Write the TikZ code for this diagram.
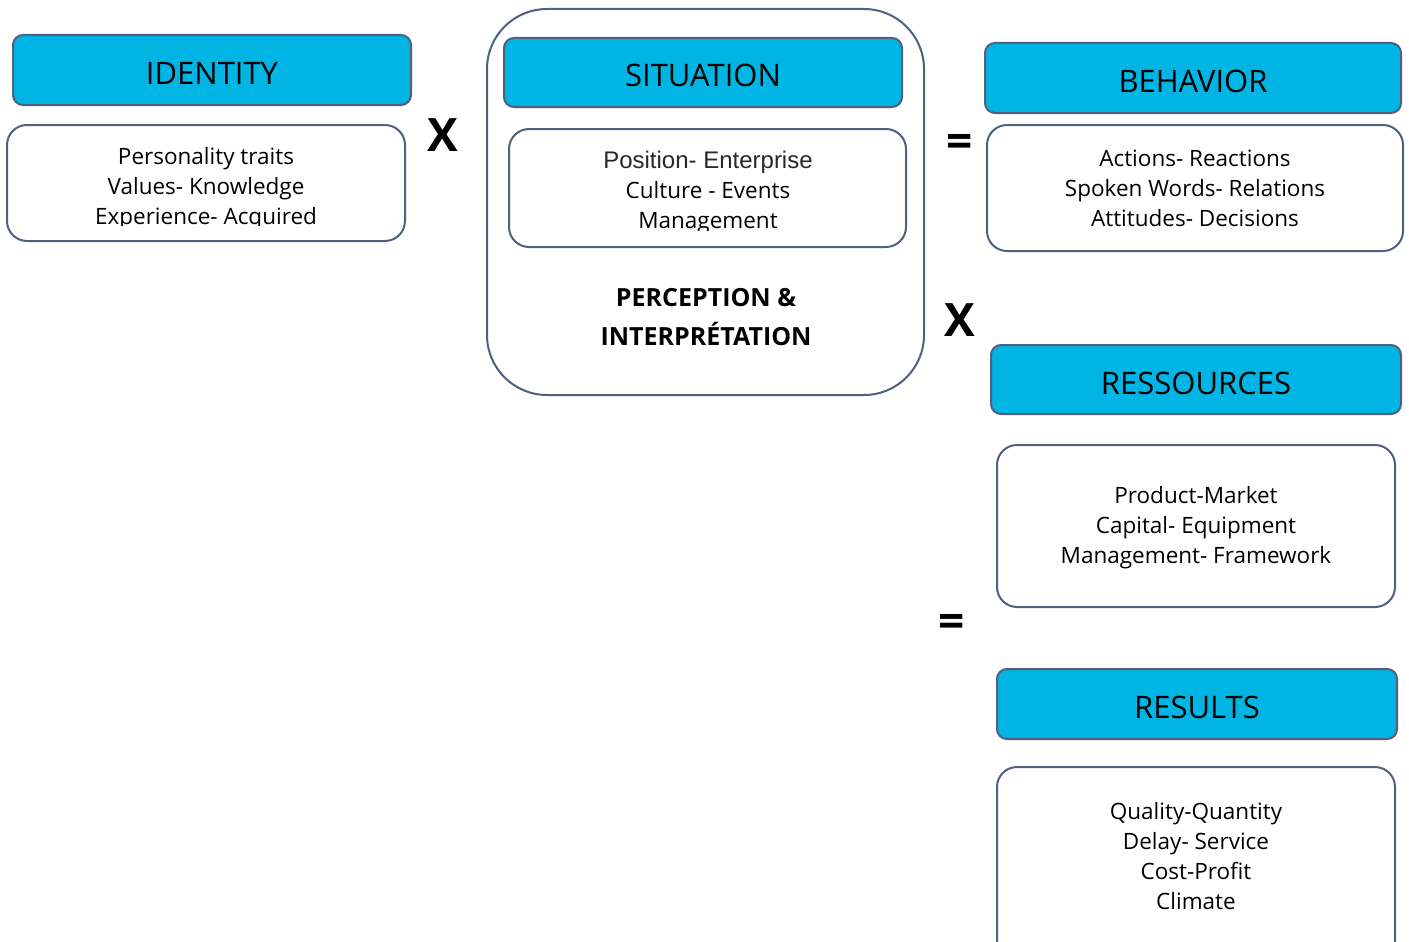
\documentclass[tikz,border=0pt]{standalone}
\usepackage{fontspec}
\setmainfont{Open Sans}
\newfontfamily\arialf{Liberation Sans}
\definecolor{hdrblue}{RGB}{0,180,228}
\definecolor{edge}{RGB}{80,96,125}
\tikzset{
  hdr/.style={draw=edge,line width=2pt,fill=hdrblue,rounded corners=10pt},
  bodybox/.style={draw=edge,line width=2pt,fill=white,rounded corners=20pt},
  hdrtxt/.style={font=\fontsize{31}{34}\selectfont,text=black},
  bodytxt/.style={font=\fontsize{22.5}{30}\selectfont,align=center,text=black},
  optxt/.style={font=\bfseries\fontsize{46}{46}\selectfont}
}
\begin{document}
\begin{tikzpicture}[x=1pt,y=-1pt]
\useasboundingbox (0,0) rectangle (1409,942);
\clip (0,0) rectangle (1409,942);
% IDENTITY
\draw[hdr] (13,35) rectangle (411,105);
\node[hdrtxt] (idh) at (212,73) {IDENTITY};
\draw[bodybox] (7,125) rectangle (405,241);
\begin{scope}
\clip (7,125) rectangle (405,225);
\node[bodytxt] (idb) at (206,189) {Personality traits\\Values- Knowledge\\Experience- Acquired};
\end{scope}
\node[optxt] (x1) at (443,135) {X};
% SITUATION
\draw[draw=edge,line width=2pt,rounded corners=60pt] (487,9) rectangle (924,395);
\draw[hdr] (504,38) rectangle (902,107);
\node[hdrtxt] (sih) at (703,75) {SITUATION};
\draw[bodybox] (509,129) rectangle (906,247);
\begin{scope}
\clip (509,129) rectangle (906,230);
\node[bodytxt] (sib) at (708,193) {{\arialf\fontsize{24}{30}\selectfont\color[RGB]{40,40,40}Position- Enterprise}\\Culture - Events\\Management};
\end{scope}
\node[font=\bfseries\fontsize{25}{39}\selectfont,align=center] (perc) at (706,317) {PERCEPTION \&\\INTERPRÉTATION};
\node[optxt] (eq1) at (960,146) {=};
% BEHAVIOR
\draw[hdr] (985,43) rectangle (1401,113);
\node[hdrtxt] (beh) at (1193,81) {BEHAVIOR};
\draw[bodybox] (987,125) rectangle (1403,251);
\node[bodytxt] (beb) at (1195,188) {Actions- Reactions\\Spoken Words- Relations\\Attitudes- Decisions};
\node[optxt] (x2) at (960,320) {X};
% RESSOURCES
\draw[hdr] (991,345) rectangle (1401,414);
\node[hdrtxt] (reh) at (1196,383) {RESSOURCES};
\draw[bodybox] (997,445) rectangle (1395,607);
\node[bodytxt] (reb) at (1196,528) {Product-Market\\Capital- Equipment\\Management- Framework};
\node[optxt] (eq2) at (952,626) {=};
% RESULTS
\draw[hdr] (997,669) rectangle (1397,739);
\node[hdrtxt] (rsh) at (1197,707) {RESULTS};
\draw[bodybox] (997,767) rectangle (1395,980);
\node[bodytxt] (rsb) at (1196,856) {Quality-Quantity\\Delay- Service\\Cost-Profit\\Climate};
\end{tikzpicture}
\end{document}
